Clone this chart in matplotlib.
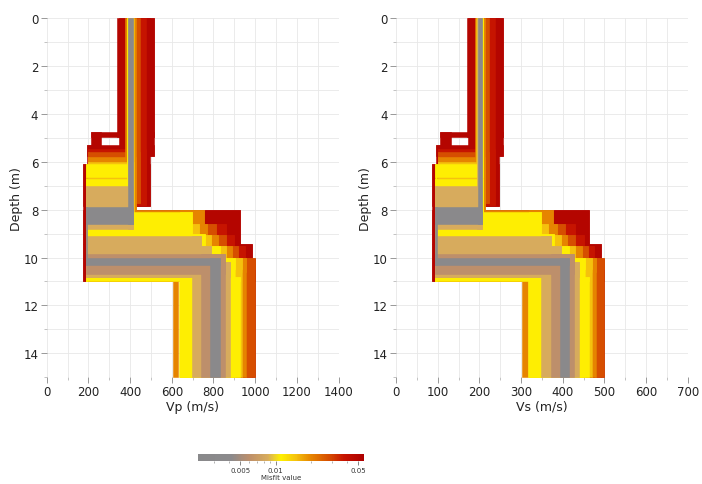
import matplotlib
matplotlib.use("Agg")
import matplotlib.pyplot as plt
from matplotlib.colors import LinearSegmentedColormap, LogNorm
from matplotlib.ticker import MultipleLocator, FixedLocator, LogLocator, NullFormatter
import matplotlib.cm as cm

# ---------------- data ----------------
# Upper part of the model families: layer 1, interface 1 and the low-velocity layer 2
up_misfit = [0.05, 0.05, 0.05, 0.038, 0.028, 0.02, 0.015, 0.011, 0.011, 0.0085, 0.003]
up_z1_min = [4.75, 5.3, 6.1, 5.45, 5.6, 5.8, 6.0, 6.1, 6.72, 7.0, 7.9]
up_z1_max = [4.95, 5.75, 7.85, 7.8, 7.7, 8.0, 8.2, 6.62, 9.05, 8.8, 8.6]
up_z2_max = [9.45, 10.05, 11.0, 10.0, 10.5, 11.0, 10.5, 11.0, 11.0, 10.8, 10.3]
# Vp (m/s)
up_vp1_min = [339, 345, 383, 383, 383, 378, 384, 387, 387, 389, 391]
up_vp1_max = [514, 514, 495, 476, 447, 428, 419, 416, 416, 413, 412]
up_vp2_min = [212, 192, 172, 200, 200, 200, 200, 188, 188, 188, 188]
up_vp2_max = [262, 212, 188, 205, 205, 205, 205, 195, 195, 195, 195]
# Vs (m/s)
up_vs1_min = [169.5, 172.5, 191.5, 191.5, 191.5, 189, 192, 193.5, 193.5, 194.5, 195.5]
up_vs1_max = [257, 257, 247.5, 238, 223.5, 214, 209.5, 208, 208, 206.5, 206]
up_vs2_min = [106, 96, 86, 100, 100, 100, 100, 94, 94, 94, 94]
up_vs2_max = [131, 106, 94, 102.5, 102.5, 102.5, 102.5, 97.5, 97.5, 97.5, 97.5]

# Lower part of the model families: interface 2 and half-space
low_misfit = [0.05, 0.05, 0.05,
              0.038, 0.038, 0.038,
              0.028, 0.028, 0.028, 0.028,
              0.02, 0.02, 0.02, 0.02, 0.02, 0.02,
              0.015, 0.015, 0.015, 0.015,
              0.011, 0.011, 0.011, 0.011, 0.011,
              0.0085, 0.0085, 0.0085,
              0.006, 0.003]
low_z2_min = [8.0, 9.45, 10.05,
              8.6, 9.05, 9.5,
              8.6, 9.05, 9.5, 10.0,
              8.0, 8.6, 9.05, 9.5, 10.0, 10.85,
              8.6, 9.05, 9.5, 10.0,
              8.1, 9.0, 9.5, 10.0, 10.8,
              9.1, 9.5, 10.2,
              9.85, 10.0]
low_z2_max = [9.45, 10.05, 11.0,
              9.05, 9.5, 10.0,
              9.05, 9.5, 10.0, 10.5,
              8.6, 9.05, 9.5, 10.0, 10.6, 11.0,
              9.05, 9.5, 10.0, 10.5,
              9.05, 9.5, 10.0, 10.5, 11.0,
              10.8, 10.0, 10.8,
              10.7, 10.3]
# Vp (m/s)
low_vp_left = [172, 172, 172,
               200, 200, 200,
               200, 200, 200, 200,
               200, 200, 200, 200, 200, 200,
               200, 200, 200, 200,
               188, 188, 188, 188, 188,
               188, 188, 188,
               188, 188]
low_vp3_min = [760, 928, 985,
               810, 860, 900,
               770, 820, 890, 957,
               640, 730, 790, 860, 938, 604,
               695, 760, 830, 905,
               640, 695, 760, 830, 635,
               695, 742, 790,
               742, 785]
low_vp3_max = [928, 985, 1000,
               860, 900, 950,
               810, 860, 920, 1000,
               755, 770, 820, 890, 957, 632,
               730, 790, 860, 938,
               695, 760, 830, 905, 928,
               742, 790, 880,
               855, 832]
# Vs (m/s)
low_vs_left = [86, 86, 86,
               100, 100, 100,
               100, 100, 100, 100,
               100, 100, 100, 100, 100, 100,
               100, 100, 100, 100,
               94, 94, 94, 94, 94,
               94, 94, 94,
               94, 94]
low_vs3_min = [380, 464, 492.5,
               405, 430, 450,
               385, 410, 445, 478.5,
               320, 365, 395, 430, 469, 302,
               347.5, 380, 415, 452.5,
               320, 347.5, 380, 415, 317.5,
               347.5, 371, 395,
               371, 392.5]
low_vs3_max = [464, 492.5, 500,
               430, 450, 475,
               405, 430, 460, 500,
               377.5, 385, 410, 445, 478.5, 316,
               365, 395, 430, 469,
               347.5, 380, 415, 452.5, 464,
               371, 395, 440,
               427.5, 416]

depth_max = 15.0
misfit_min, misfit_max = 0.0022, 0.056
cbar_ticks = [0.005, 0.01, 0.05]
cbar_ticklabels = ['0.005', '0.01', '0.05']

# ---------------- colour map ----------------
cmap_pos = [0.0, 0.2, 0.31, 0.42, 0.5, 0.59, 0.68, 0.79, 0.88, 1.0]
cmap_col = ['#89898b', '#8c8a8c', '#bd8f6b', '#d8ac5c', '#fff000',
            '#f5c20d', '#e68500', '#d64d00', '#c71400', '#ad0000']
cmap = LinearSegmentedColormap.from_list('misfit', list(zip(cmap_pos, cmap_col)))
norm = LogNorm(vmin=misfit_min, vmax=misfit_max)


def draw_panel(ax, v1lo, v1hi, v2lo, v2hi, left, v3lo, v3hi):
    rects = []
    for i in range(len(up_misfit)):
        m = up_misfit[i]
        rects.append((m, v1lo[i], v1hi[i], 0.0, up_z1_max[i]))
        rects.append((m, v2lo[i], v1hi[i], up_z1_min[i], up_z1_max[i]))
        rects.append((m, v2lo[i], v2hi[i], up_z1_min[i], up_z2_max[i]))
    for j in range(len(low_misfit)):
        m = low_misfit[j]
        rects.append((m, left[j], v3hi[j], low_z2_min[j], low_z2_max[j]))
        rects.append((m, v3lo[j], v3hi[j], low_z2_min[j], depth_max))
    rects.sort(key=lambda r: -r[0])
    for m, x0, x1, z0, z1 in rects:
        c = cmap(norm(m))
        ax.fill_betweenx([z0, z1], x0, x1, facecolor=c, edgecolor=c,
                         linewidth=0.4, zorder=2)


def style_axes(ax, xmax, xmajor, xminor, xlabel):
    ax.set_xlim(0, xmax)
    ax.set_ylim(depth_max, 0)
    ax.xaxis.set_major_locator(MultipleLocator(xmajor))
    ax.xaxis.set_minor_locator(MultipleLocator(xminor))
    ax.yaxis.set_major_locator(MultipleLocator(2))
    ax.yaxis.set_minor_locator(MultipleLocator(1))
    ax.grid(which='both', color='#e8e8e8', linewidth=0.6, zorder=0)
    ax.set_axisbelow(True)
    for s in ax.spines.values():
        s.set_visible(False)
    ax.tick_params(which='major', direction='out', length=4, width=0.6,
                   color='#888888', labelsize=8.5, labelcolor='#222222', pad=2)
    ax.tick_params(which='minor', direction='out', length=2.5, width=0.5,
                   color='#aaaaaa')
    ax.set_xlabel(xlabel, fontsize=9, color='#222222', labelpad=1)
    ax.set_ylabel('Depth (m)', fontsize=9, color='#222222', labelpad=0.5)


fig = plt.figure(figsize=(7.02, 4.85), dpi=100)
ax1 = fig.add_axes([0.0665, 0.2206, 0.4158, 0.7392])
ax2 = fig.add_axes([0.5641, 0.2206, 0.4158, 0.7392])
cax = fig.add_axes([0.282, 0.0464, 0.2365, 0.0155])

draw_panel(ax1, up_vp1_min, up_vp1_max, up_vp2_min, up_vp2_max,
           low_vp_left, low_vp3_min, low_vp3_max)
draw_panel(ax2, up_vs1_min, up_vs1_max, up_vs2_min, up_vs2_max,
           low_vs_left, low_vs3_min, low_vs3_max)

style_axes(ax1, 1400, 200, 100, 'Vp (m/s)')
style_axes(ax2, 700, 100, 50, 'Vs (m/s)')

sm = cm.ScalarMappable(norm=norm, cmap=cmap)
cb = fig.colorbar(sm, cax=cax, orientation='horizontal')
cb.outline.set_visible(False)
cax.xaxis.set_major_locator(FixedLocator(cbar_ticks))
cax.set_xticklabels(cbar_ticklabels)
cax.xaxis.set_minor_locator(LogLocator(base=10, subs=range(2, 10)))
cax.xaxis.set_minor_formatter(NullFormatter())
cax.tick_params(which='major', labelsize=5, length=3, width=0.5, pad=1,
                color='#555555', labelcolor='#333333')
cax.tick_params(which='minor', length=1.5, width=0.4, color='#777777')
cb.set_label('Misfit value', fontsize=5, labelpad=1, color='#333333')

fig.savefig('out.png', dpi=100)
